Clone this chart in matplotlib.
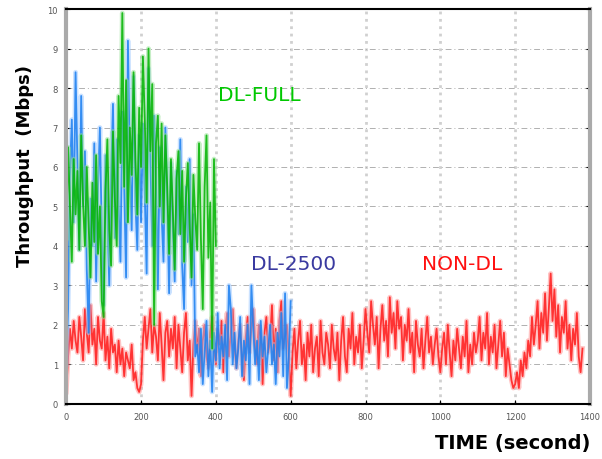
import matplotlib
matplotlib.use("Agg")
import matplotlib.pyplot as plt
import numpy as np

# NON-DL, one sample every 5 s
non_dl_time = list(range(0, 1385, 5))
non_dl = [
    0.3, 1.2, 1.9, 1.4, 2.1, 1.6, 1.3, 2.2, 1.7, 1.1, 2.4, 1.8, 1.3, 2.5, 1.5, 1.9, 1.0, 2.2, 1.6, 1.4,
    2.3, 1.1, 1.7, 0.9, 1.9, 1.3, 1.5, 0.8, 1.6, 1.0, 1.4, 0.7, 1.3, 1.1, 0.9, 1.5, 0.6, 0.8, 0.4, 0.3,
    0.5, 1.6, 2.2, 1.4, 1.9, 2.4, 1.3, 2.0, 1.7, 1.1, 2.3, 1.5, 0.6, 1.8, 2.1, 1.2, 1.9, 1.4, 2.2, 0.9,
    2.0, 1.4, 0.8, 1.8, 2.3, 1.1, 1.6, 0.2, 1.5, 2.1, 1.3, 1.9, 0.7, 1.6, 2.0, 1.2, 0.9, 1.8, 2.2, 1.4,
    1.0, 1.9, 1.5, 2.1, 0.8, 1.7, 2.3, 1.2, 1.8, 2.4, 1.4, 0.9, 1.6, 2.0, 1.1, 0.6, 1.7, 2.2, 1.3, 1.9,
    2.4, 1.5, 1.0, 2.0, 1.7, 0.5, 1.8, 2.2, 1.3, 1.6, 2.5, 1.1, 1.9, 0.8, 2.1, 2.6, 1.4, 1.7, 2.0, 1.2,
    0.2, 1.3, 1.9, 0.9, 1.6, 2.1, 1.0, 1.5, 0.6, 1.8, 1.2, 2.0, 0.8, 1.4, 1.7, 0.7, 2.1, 1.3, 1.0, 1.8,
    1.5, 0.9, 2.0, 1.4, 1.1, 1.8, 0.6, 1.6, 2.2, 1.2, 0.8, 1.9, 1.4, 2.3, 1.0, 1.7, 1.3, 2.0, 0.9, 1.6,
    2.4, 1.8, 1.3, 2.6, 2.0, 1.5, 2.2, 0.9, 1.9, 2.5, 1.6, 2.1, 1.2, 2.7, 1.8, 2.3, 1.4, 2.6, 1.9, 2.2,
    1.1, 2.0, 1.6, 2.4, 1.3, 1.8, 0.8, 2.1, 1.5, 1.2, 1.9, 0.9, 1.6, 2.2, 1.3, 1.7, 1.0, 1.5, 1.9, 1.2,
    0.8, 1.4, 1.8, 1.0, 2.0, 1.3, 0.7, 1.6, 1.1, 1.9, 1.4, 0.9, 1.7, 1.2, 2.1, 0.8, 1.5, 1.0, 1.8, 1.3,
    1.6, 2.2, 1.1, 1.8, 1.4, 2.3, 1.0, 1.7, 1.3, 2.0, 0.9, 1.5, 2.1, 1.2, 1.8, 0.7, 1.4, 1.0, 0.6, 0.4,
    0.5, 0.8, 0.4, 1.1, 0.7, 1.3, 0.9, 1.6, 1.2, 2.2, 1.5, 2.0, 2.6, 1.4, 2.3, 1.8, 2.8, 1.6, 2.4, 3.3,
    2.1, 2.9, 1.7, 2.5, 1.3, 2.2, 1.8, 2.6, 1.4, 2.0, 1.1, 1.9, 1.5, 2.3, 1.2, 0.8, 1.4,
]

# DL-FULL, one sample every 5 s
dl_full_time = list(range(0, 405, 5))
dl_full = [
    4.2, 6.5, 5.0, 3.6, 6.2, 4.8, 5.9, 3.9, 6.8, 5.1,
    4.0, 6.0, 4.5, 3.2, 5.6, 4.1, 6.3, 3.8, 5.0, 2.6,
    2.2, 5.4, 6.7, 4.4, 3.5, 6.9, 5.2, 4.0, 7.8, 6.1,
    9.9, 5.5, 8.2, 4.6, 7.0, 5.8, 8.4, 6.2, 4.8, 7.5,
    6.0, 8.8, 7.2, 5.1, 9.0, 6.4, 8.1, 2.0, 6.6, 7.3,
    5.0, 7.1, 4.6, 6.8, 5.5, 3.8, 6.2, 4.9, 3.4, 5.7,
    6.4, 4.3, 5.9, 3.6, 5.2, 6.1, 4.5, 3.2, 5.8, 4.7,
    3.9, 6.6, 4.2, 2.4, 5.5, 6.8, 3.7, 5.1, 1.4, 6.2,
    4.0,
]

# DL-2500, one sample every 5 s
dl_2500_time = list(range(0, 605, 5))
dl_2500 = [
    1.0, 2.4, 5.8, 7.2, 4.6, 8.4, 6.1, 3.9, 7.8, 5.0,
    6.4, 3.4, 1.8, 5.2, 4.0, 6.6, 3.1, 5.5, 7.0, 4.3,
    2.5, 6.3, 4.8, 3.0, 5.8, 7.6, 4.2, 6.7, 5.0, 3.6,
    7.4, 5.5, 3.2, 9.2, 6.0, 4.4, 8.3, 5.1, 3.9, 6.8,
    4.6, 7.1, 5.3, 3.3, 8.5, 6.2, 4.0, 7.3, 5.6, 2.9,
    6.5, 4.8, 3.6, 7.0, 5.2, 2.8, 6.1, 4.4, 3.1, 5.9,
    4.3, 6.7, 3.5, 2.4, 5.5, 4.1, 6.2, 3.0, 4.8, 1.2,
    1.5, 0.8, 1.9, 0.5, 1.3, 2.1, 0.7, 1.6, 0.3, 1.8,
    1.1, 2.3, 0.9, 1.7, 1.2, 2.0, 0.6, 3.0, 2.4, 1.0,
    1.8, 0.9, 1.4, 2.2, 0.7, 1.6, 1.1, 2.0, 0.5, 3.0,
    1.9, 1.0, 1.6, 0.6, 2.1, 1.2, 1.7, 0.8, 1.4, 2.0,
    1.0, 1.5, 0.5, 1.8, 1.2, 2.3, 0.7, 2.8, 0.4, 1.2,
    2.6,
]

fig = plt.figure(figsize=(6.02, 4.6), dpi=100)
ax = fig.add_axes([0.110, 0.120, 0.870, 0.858])

# faint wide pass under a sharper pass, to get the smeared look of the original
series = [
    (non_dl_time, non_dl, "#ff8c8c", "#ff1a1a"),
    (dl_2500_time, dl_2500, "#99c6ff", "#1a7ef0"),
    (dl_full_time, dl_full, "#8ede8e", "#00b400"),
]
for t, v, c_light, c_dark in series:
    ax.plot(t, v, color=c_light, lw=3.5, alpha=0.5)
    ax.plot(t, v, color=c_dark, lw=1.3, alpha=0.85)

ax.set_xlim(0, 1400)
ax.set_ylim(0, 10)
ax.set_xticks(np.arange(0, 1401, 200))
ax.set_yticks(np.arange(0, 11, 1))
ax.tick_params(labelsize=6, labelcolor="#555555", direction="in", length=3,
               right=True, pad=6)

ax.grid(axis="y", color="#b0b0b0", linestyle=(0, (6, 3, 1, 3)), lw=0.7)
ax.grid(axis="x", color="#d0d0d0", linestyle=":", lw=2)

for side in ["top", "bottom"]:
    ax.spines[side].set_color("black")
    ax.spines[side].set_linewidth(1.5)
for side in ["left", "right"]:
    ax.spines[side].set_color("#aaaaaa")
    ax.spines[side].set_linewidth(3)

ax.text(0.29, 0.783, "DL-FULL", transform=ax.transAxes, color="#00c800",
        fontsize=14.5, ha="left", va="center")
ax.text(0.352, 0.355, "DL-2500", transform=ax.transAxes, color="#3a3aa0",
        fontsize=14.5, ha="left", va="center")
ax.text(0.68, 0.355, "NON-DL", transform=ax.transAxes, color="#ff1010",
        fontsize=14.5, ha="left", va="center")

fig.text(0.98, 0.035, "TIME (second)", ha="right", va="center",
         fontsize=14, fontweight="bold")
fig.text(0.042, 0.64, "Throughput  (Mbps)", ha="center", va="center",
         rotation=90, fontsize=13, fontweight="bold")

fig.savefig("out.png", dpi=100)
